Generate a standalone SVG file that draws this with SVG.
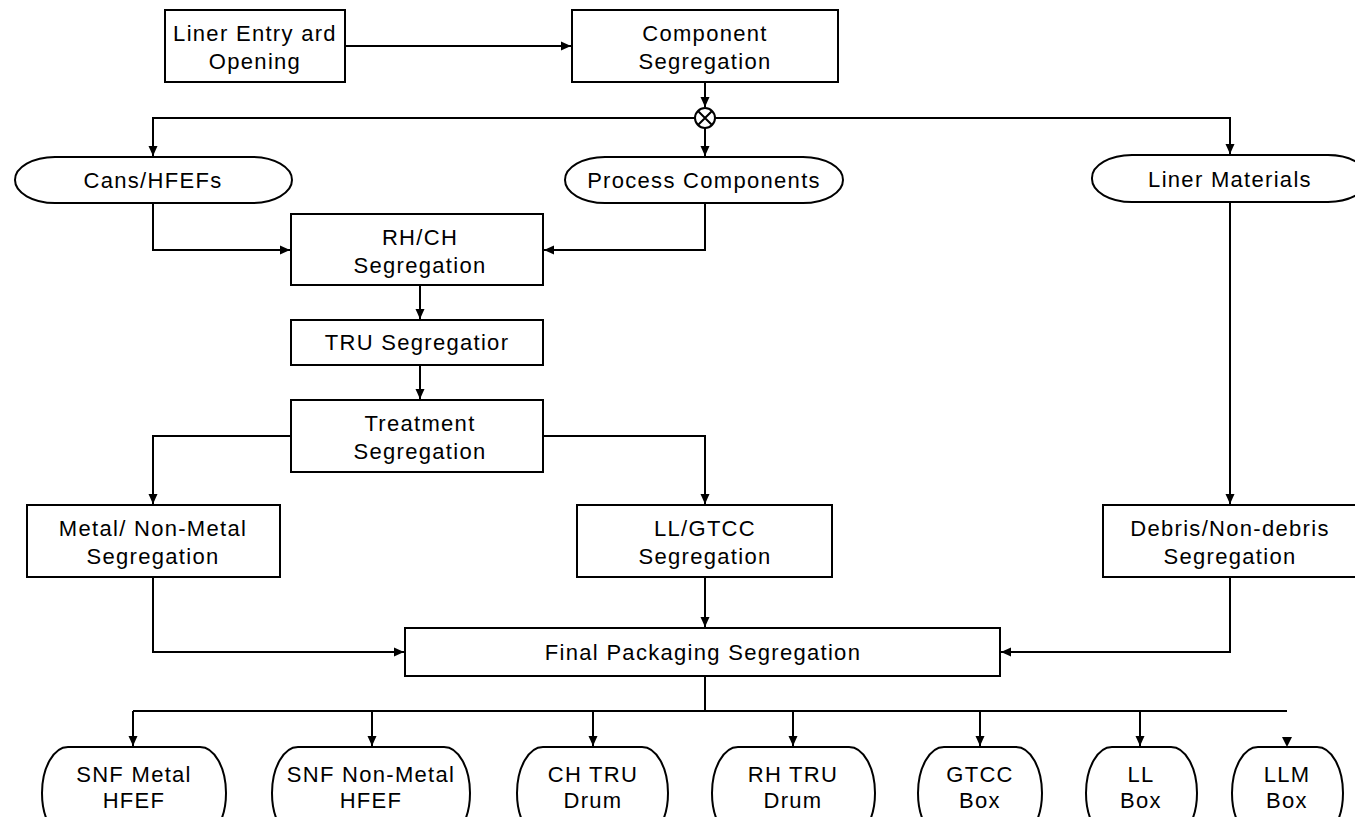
<svg xmlns="http://www.w3.org/2000/svg" width="1355" height="817" viewBox="0 0 1355 817">
<style>
.box{fill:#fff;stroke:#000;stroke-width:2}
.pill{fill:#fff;stroke:#000;stroke-width:2}
.t{font-family:"Liberation Sans",Arial,sans-serif;font-size:22px;letter-spacing:1.3px;text-anchor:middle;fill:#000}
.c{fill:none;stroke:#000;stroke-width:2}
</style>
<defs>
<marker id="ah" markerUnits="userSpaceOnUse" markerWidth="12" markerHeight="12" viewBox="0 0 12 12" refX="11" refY="6" orient="auto">
<path d="M1,1.5 L11,6 L1,10.5 Z" fill="#000"/>
</marker>
</defs>
<rect width="1355" height="817" fill="#fff"/>
<g id="connectors">
<path class="c" d="M345,46 H571" marker-end="url(#ah)"/>
<path class="c" d="M705,82 V107" marker-end="url(#ah)"/>
<path class="c" d="M153,118 H695 M715,118 H1230"/>
<path class="c" d="M153,117 V156" marker-end="url(#ah)"/>
<path class="c" d="M705,128 V156" marker-end="url(#ah)"/>
<path class="c" d="M1230,117 V154" marker-end="url(#ah)"/>
<path class="c" d="M153,203 V250 H290" marker-end="url(#ah)"/>
<path class="c" d="M705,203 V250 H544" marker-end="url(#ah)"/>
<path class="c" d="M420,285 V319" marker-end="url(#ah)"/>
<path class="c" d="M420,365 V399" marker-end="url(#ah)"/>
<path class="c" d="M291,436 H153 V504" marker-end="url(#ah)"/>
<path class="c" d="M543,436 H705 V504" marker-end="url(#ah)"/>
<path class="c" d="M1230,202 V504" marker-end="url(#ah)"/>
<path class="c" d="M153,577 V652 H404" marker-end="url(#ah)"/>
<path class="c" d="M705,577 V627" marker-end="url(#ah)"/>
<path class="c" d="M1230,577 V652 H1001" marker-end="url(#ah)"/>
<path class="c" d="M705,676 V711 M133,711 H1287"/>
<path class="c" d="M133,711 V746" marker-end="url(#ah)"/>
<path class="c" d="M372,711 V746" marker-end="url(#ah)"/>
<path class="c" d="M593,711 V746" marker-end="url(#ah)"/>
<path class="c" d="M793,711 V746" marker-end="url(#ah)"/>
<path class="c" d="M980,711 V746" marker-end="url(#ah)"/>
<path class="c" d="M1140,711 V746" marker-end="url(#ah)"/>
<path d="M1282,737 L1292,737 L1287,747 Z" fill="#000"/>
</g>
<g id="gate">
<circle cx="705" cy="118" r="10" fill="#fff" stroke="#000" stroke-width="2"/>
<path d="M698,111 L712,125 M712,111 L698,125" stroke="#000" stroke-width="2"/>
</g>
<g id="liner-entry">
<rect class="box" x="165" y="10" width="180" height="72"/>
<text class="t" x="255" y="41">Liner Entry ard</text>
<text class="t" x="255" y="69">Opening</text>
</g>
<g id="component-segregation">
<rect class="box" x="572" y="10" width="266" height="72"/>
<text class="t" x="705" y="41">Component</text>
<text class="t" x="705" y="69">Segregation</text>
</g>
<g id="cans">
<rect class="pill" x="15" y="157" width="277" height="46" rx="40" ry="23"/>
<text class="t" x="153" y="188">Cans/HFEFs</text>
</g>
<g id="process-components">
<rect class="pill" x="565" y="157" width="278" height="46" rx="40" ry="23"/>
<text class="t" x="704" y="188">Process Components</text>
</g>
<g id="liner-materials">
<rect class="pill" x="1092" y="155" width="276" height="47" rx="40" ry="23"/>
<text class="t" x="1230" y="187">Liner Materials</text>
</g>
<g id="rhch">
<rect class="box" x="291" y="214" width="252" height="71"/>
<text class="t" x="420" y="245">RH/CH</text>
<text class="t" x="420" y="273">Segregation</text>
</g>
<g id="tru">
<rect class="box" x="291" y="320" width="252" height="45"/>
<text class="t" x="417" y="350">TRU Segregatior</text>
</g>
<g id="treatment">
<rect class="box" x="291" y="400" width="252" height="72"/>
<text class="t" x="420" y="431">Treatment</text>
<text class="t" x="420" y="459">Segregation</text>
</g>
<g id="metal">
<rect class="box" x="27" y="505" width="253" height="72"/>
<text class="t" x="153" y="536">Metal/ Non-Metal</text>
<text class="t" x="153" y="564">Segregation</text>
</g>
<g id="llgtcc">
<rect class="box" x="577" y="505" width="255" height="72"/>
<text class="t" x="705" y="536">LL/GTCC</text>
<text class="t" x="705" y="564">Segregation</text>
</g>
<g id="debris">
<rect class="box" x="1103" y="505" width="256" height="72"/>
<text class="t" x="1230" y="536">Debris/Non-debris</text>
<text class="t" x="1230" y="564">Segregation</text>
</g>
<g id="final">
<rect class="box" x="405" y="628" width="595" height="48"/>
<text class="t" x="703" y="660">Final Packaging Segregation</text>
</g>
<g id="snf-metal">
<rect class="pill" x="42" y="747" width="184" height="92" rx="26" ry="46"/>
<text class="t" x="134" y="782">SNF Metal</text>
<text class="t" x="134" y="808">HFEF</text>
</g>
<g id="snf-nonmetal">
<rect class="pill" x="272" y="747" width="198" height="92" rx="26" ry="46"/>
<text class="t" x="371" y="782">SNF Non-Metal</text>
<text class="t" x="371" y="808">HFEF</text>
</g>
<g id="ch-tru">
<rect class="pill" x="517" y="747" width="151" height="92" rx="26" ry="46"/>
<text class="t" x="593" y="782">CH TRU</text>
<text class="t" x="593" y="808">Drum</text>
</g>
<g id="rh-tru">
<rect class="pill" x="712" y="747" width="163" height="92" rx="26" ry="46"/>
<text class="t" x="793" y="782">RH TRU</text>
<text class="t" x="793" y="808">Drum</text>
</g>
<g id="gtcc">
<rect class="pill" x="918" y="747" width="124" height="92" rx="26" ry="46"/>
<text class="t" x="980" y="782">GTCC</text>
<text class="t" x="980" y="808">Box</text>
</g>
<g id="ll">
<rect class="pill" x="1086" y="747" width="111" height="92" rx="26" ry="46"/>
<text class="t" x="1141" y="782">LL</text>
<text class="t" x="1141" y="808">Box</text>
</g>
<g id="llm">
<rect class="pill" x="1232" y="747" width="111" height="92" rx="26" ry="46"/>
<text class="t" x="1287" y="782">LLM</text>
<text class="t" x="1287" y="808">Box</text>
</g>
</svg>
